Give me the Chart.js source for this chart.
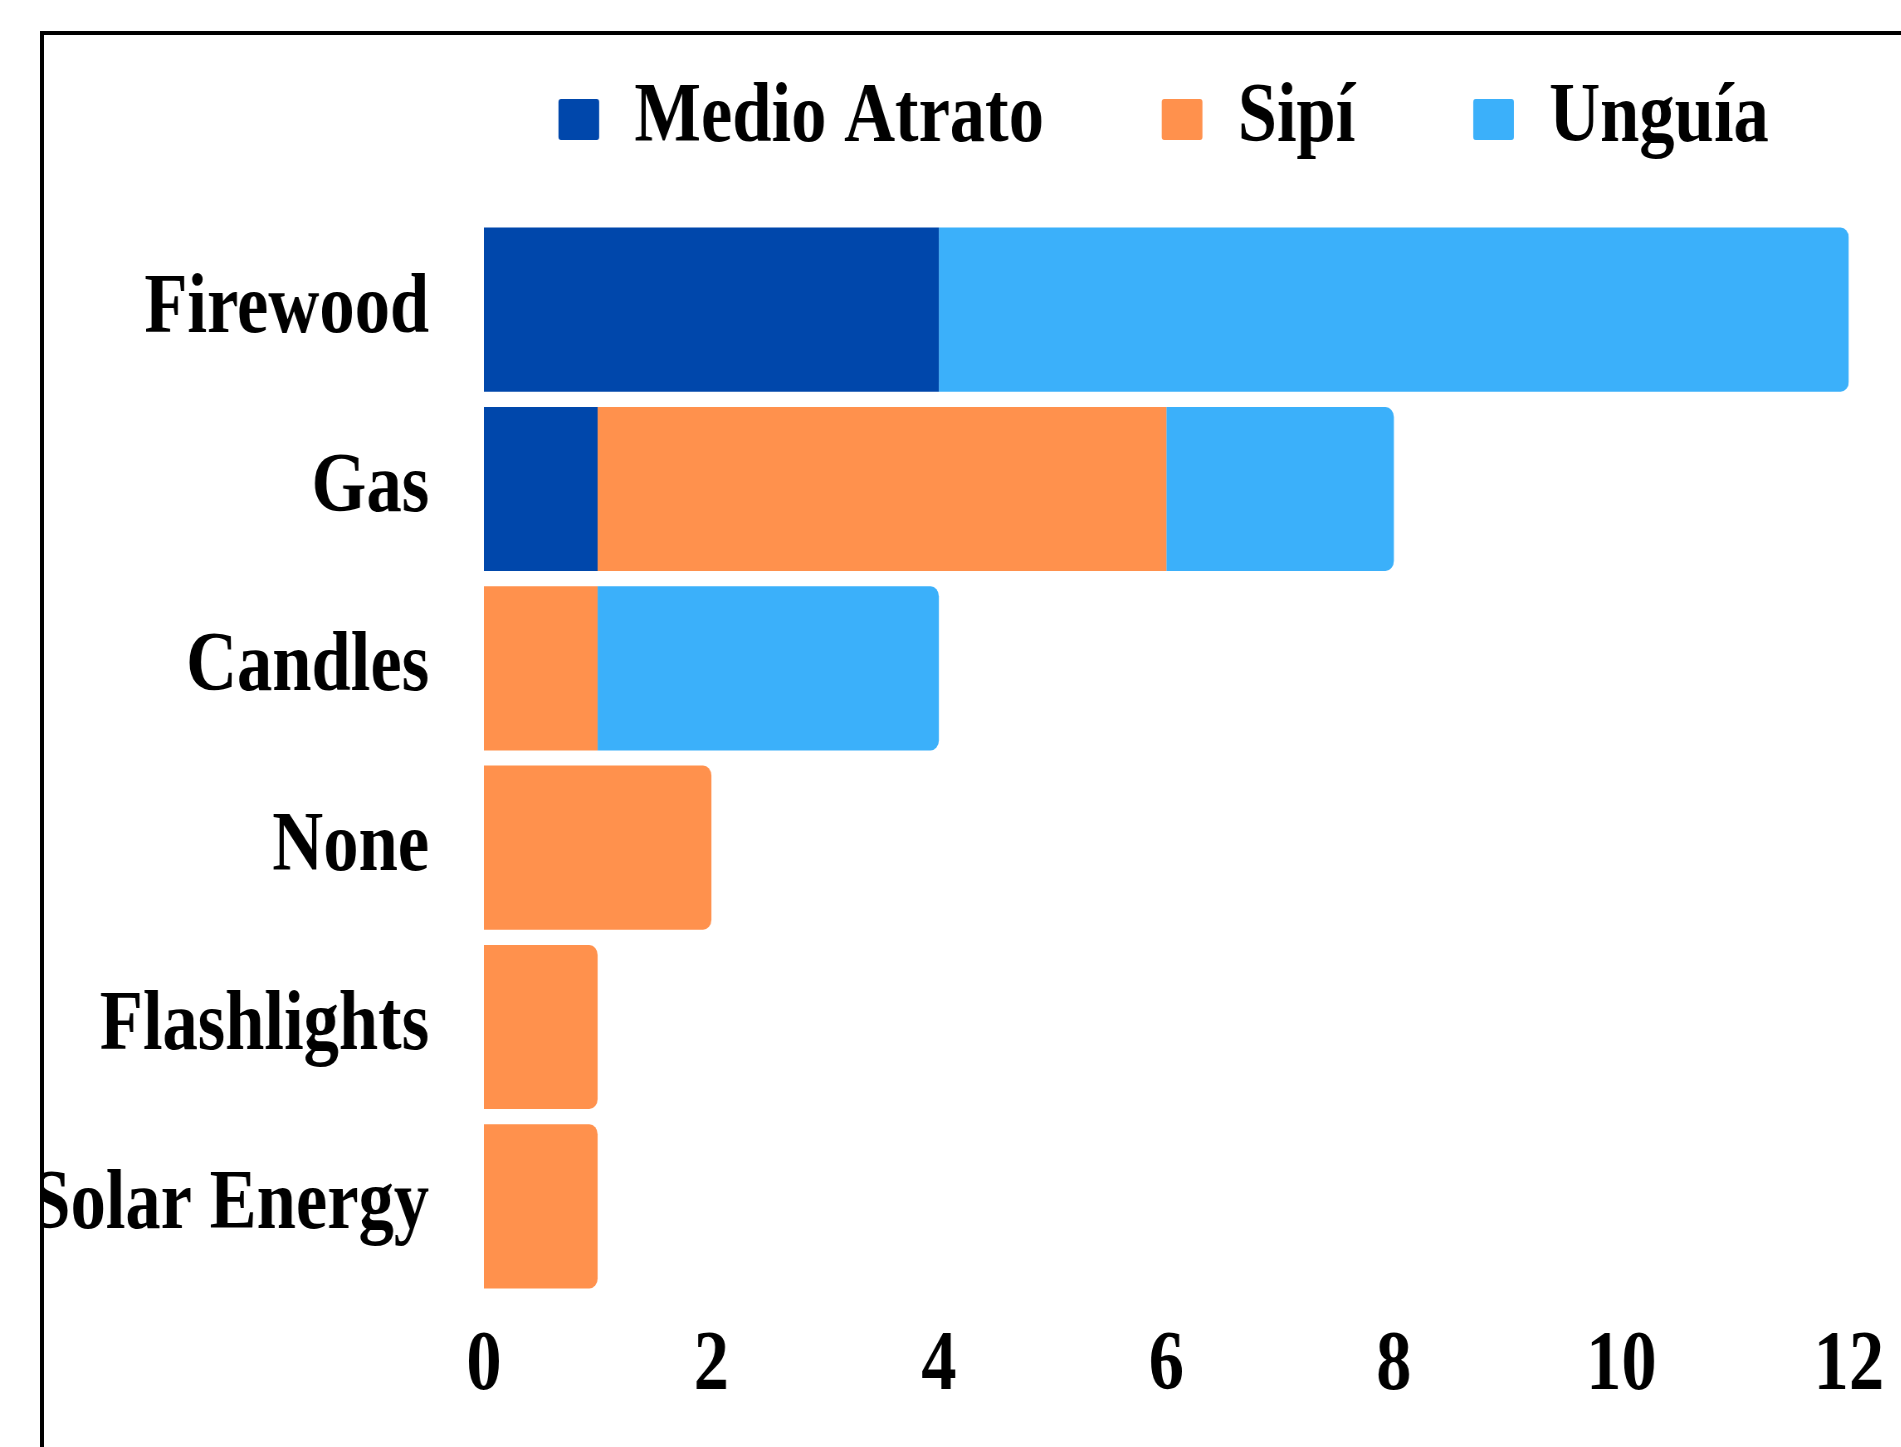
<!DOCTYPE html>
<html>
<head>
<meta charset="utf-8">
<script src="https://cdn.jsdelivr.net/npm/chart.js@4.4.0/dist/chart.umd.min.js"></script>
<style>
    html, body { margin: 0; padding: 0; background: #fff; overflow: hidden; }
    /* the reference text is narrow, so the whole chart is squeezed sideways */
    #stage { position: absolute; left: 0; top: 0; width: 2290px; height: 1447px; transform: scaleX(0.83); transform-origin: 0 0; }
    #frame { position: absolute; left: 40px; top: 31px; width: 2000px; height: 1600px; border: 4px solid #000; pointer-events: none; }
    /* the picture is cropped at the frame, nothing shows outside it */
    #cover { position: absolute; left: 0; top: 0; width: 40px; height: 1447px; background: #fff; }
</style>
</head>
<body>
<div id="stage"><canvas id="energyChart"></canvas></div>
<div id="cover"></div>
<div id="frame"></div>
<script>
const categories = ['Firewood', 'Gas', 'Candles', 'None', 'Flashlights', 'Solar Energy'];
const medioAtrato = [4, 1, 0, 0, 0, 0];
const sipi = [0, 5, 1, 2, 1, 1];
const unguia = [8, 2, 3, 0, 0, 0];
const xTicks = [0, 2, 4, 6, 8, 10, 12];

Chart.defaults.font.family = "'Liberation Serif', 'Times New Roman', serif";
Chart.defaults.font.size = 85;
Chart.defaults.font.weight = 'bold';
Chart.defaults.color = '#000';

function series(label, data, color) {
    return {
        label: label,
        data: data,
        backgroundColor: color,
        borderWidth: 0,
        borderRadius: 10,
        barPercentage: 0.915,
        categoryPercentage: 1
    };
}

const ctx = document.getElementById('energyChart');
let energyChart = new Chart(ctx, {
    type: 'bar',
    data: {
        labels: categories,
        datasets: [
            series('Medio Atrato', medioAtrato, '#0047AB'),
            series('Sipí', sipi, '#FF914D'),
            series('Unguía', unguia, '#3BB0FA')
        ]
    },
    options: {
        indexAxis: 'y',
        responsive: true,
        maintainAspectRatio: false,
        animation: false,
        layout: {
            padding: { left: 0, right: 17, top: -65, bottom: 9 }
        },
        scales: {
            x: {
                stacked: true,
                min: 0,
                max: 12,
                afterBuildTicks: function (scale) {
                    scale.ticks = xTicks.map(v => ({ value: v }));
                },
                grid: { display: false, drawTicks: false },
                border: { display: false },
                ticks: { padding: 20, color: '#000' }
            },
            y: {
                stacked: true,
                grid: { display: false, drawTicks: false },
                border: { display: false },
                ticks: { padding: 66, color: '#000' },
                afterFit: function (scale) {
                    scale.width = 583;
                }
            }
        },
        plugins: {
            legend: {
                position: 'top',
                align: 'end',
                weight: 3000,
                labels: {
                    boxWidth: 49,
                    boxHeight: 41,
                    padding: 142,
                    color: '#000',
                    useBorderRadius: true,
                    borderRadius: 3
                }
            },
            // empty title only adds the gap under the legend
            title: {
                display: true,
                text: '',
                weight: 500,
                font: { size: 10 },
                padding: { top: 0, bottom: 36 }
            },
            tooltip: { enabled: false }
        }
    }
});
</script>
</body>
</html>
